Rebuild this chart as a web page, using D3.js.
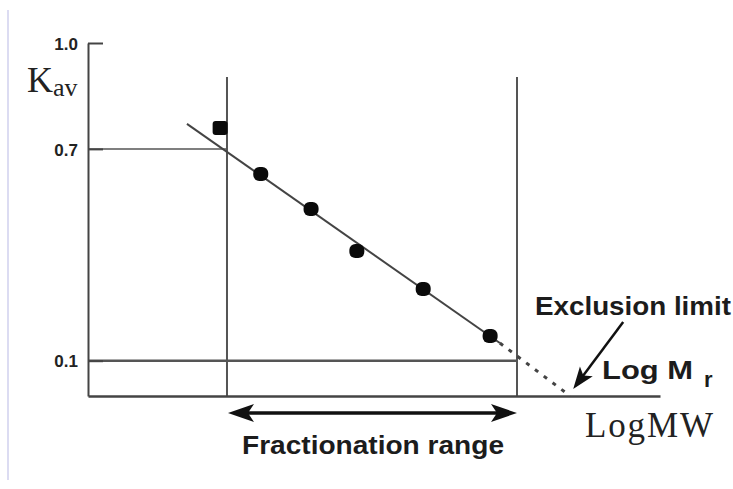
<!DOCTYPE html>
<meta charset="utf-8">
<html>
<style>
body { margin: 0; background: #fff; }
.guide { fill: none; stroke: #555; }
.lbl { font-family: "Liberation Sans", Arial, sans-serif; font-weight: bold; fill: #1c1c1c; }
.serif { font-family: "Liberation Serif", "Times New Roman", serif; fill: #222; }
</style>
<body>
<script src="https://d3js.org/d3.v7.min.js"></script>
<script>

// values (x is an arbitrary log MW scale 0..10)
var yTicks = [1.0, 0.7, 0.1];
var cutoffX = [2.43, 7.50];          // fractionation range limits
var cutoffTop = 0.904;
var levelKav = [0.7, 0.1];           // horizontal guides, ending at cutoffX
var pointsX = [2.31, 3.02, 3.90, 4.70, 5.86, 7.03];
var pointsKav = [0.759, 0.629, 0.530, 0.411, 0.303, 0.170];
var fitX = [1.73, 7.20];
var fitKav = [0.771, 0.150];
var extX = [7.20, 8.43];
var extKav = [0.150, 0.0];

var width = 733, height = 489;

var x = d3.scaleLinear().domain([0, 10]).range([88, 660]);
var y = d3.scaleLinear().domain([0, 1]).range([396, 43]);

var svg = d3.select("body").append("svg")
    .attr("width", width)
    .attr("height", height);

// faint page border on the left
svg.append("line")
    .attr("x1", 8).attr("x2", 8).attr("y1", 10).attr("y2", 480)
    .style("stroke", "#dcdcf2").style("stroke-width", 2);

// horizontal guides at 0.7 and 0.1
svg.selectAll(".level")
    .data(levelKav)
  .enter().append("line")
    .attr("class", "guide")
    .attr("x1", x(0))
    .attr("x2", function(d, i) { return x(cutoffX[i]); })
    .attr("y1", function(d) { return y(d); })
    .attr("y2", function(d) { return y(d); })
    .style("stroke-width", function(d, i) { return i ? 2.5 : 1.5; });

// vertical cut-off lines
svg.selectAll(".cut")
    .data(cutoffX)
  .enter().append("line")
    .attr("class", "guide")
    .attr("x1", function(d) { return x(d); })
    .attr("x2", function(d) { return x(d); })
    .attr("y1", y(cutoffTop))
    .attr("y2", y(0))
    .style("stroke-width", 2);

// Y axis
svg.append("g")
    .attr("transform", "translate(" + x(0) + ",0)")
    .call(d3.axisLeft(y).tickValues(yTicks).tickSize(-15).tickSizeOuter(0)
      .tickPadding(10).tickFormat(d3.format(".1f")))
    .call(function(g) {
      g.attr("font-size", null).attr("font-family", null);
      g.selectAll("path, line").style("stroke", "#444").style("stroke-width", 2);
      g.selectAll("text").attr("class", "lbl")
        .attr("font-size", 17).style("font-size", "17px")
        .attr("dy", "0.36em").style("fill", "#222");
    });

// X axis
svg.append("g")
    .attr("transform", "translate(0," + y(0) + ")")
    .call(d3.axisBottom(x).tickValues([]).tickSizeOuter(0))
    .call(function(g) {
      g.select("path").style("stroke", "#444").style("stroke-width", 2.5);
    });

// fitted line, solid then dotted extrapolation
var line = d3.line()
    .x(function(d) { return x(d[0]); })
    .y(function(d) { return y(d[1]); });

svg.append("path")
    .datum(d3.zip(fitX, fitKav))
    .attr("d", line)
    .style("fill", "none").style("stroke", "#444").style("stroke-width", 2);

svg.append("path")
    .datum(d3.zip(extX, extKav))
    .attr("d", line)
    .style("fill", "none").style("stroke", "#444").style("stroke-width", 3)
    .style("stroke-dasharray", "4,7");

// data points
svg.selectAll(".pt")
    .data(d3.zip(pointsX, pointsKav))
  .enter().append("rect")
    .attr("x", function(d) { return x(d[0]) - 7.5; })
    .attr("y", function(d) { return y(d[1]) - 7; })
    .attr("width", 15).attr("height", 14)
    .attr("rx", function(d, i) { return i ? 6 : 3; })
    .style("fill", "#0a0a0a");

// fractionation range double arrow
var ay = y(0) + 17, xa = x(cutoffX[0]) + 1, xb = x(cutoffX[1]);
svg.append("line")
    .attr("x1", xa + 10).attr("x2", xb - 10).attr("y1", ay).attr("y2", ay)
    .style("stroke", "#111").style("stroke-width", 3.5);
svg.append("path")
    .attr("d", "M" + xa + "," + ay + "L" + (xa + 26) + "," + (ay - 9) + "L" + (xa + 20) + "," + ay +
               "L" + (xa + 26) + "," + (ay + 9) + "Z")
    .style("fill", "#111");
svg.append("path")
    .attr("d", "M" + xb + "," + ay + "L" + (xb - 26) + "," + (ay - 9) + "L" + (xb - 20) + "," + ay +
               "L" + (xb - 26) + "," + (ay + 9) + "Z")
    .style("fill", "#111");

// exclusion limit arrow
var tx = x(extX[1]) + 3, ty = y(0) - 7;
var sx = tx + 50, sy = ty - 67;
var ang = Math.atan2(ty - sy, tx - sx);
function rot(dx, dy) {
  return [tx + dx * Math.cos(ang) - dy * Math.sin(ang), ty + dx * Math.sin(ang) + dy * Math.cos(ang)];
}
svg.append("line")
    .attr("x1", sx).attr("y1", sy)
    .attr("x2", rot(-14, 0)[0]).attr("y2", rot(-14, 0)[1])
    .style("stroke", "#111").style("stroke-width", 2.5);
svg.append("path")
    .attr("d", "M" + rot(0, 0) + "L" + rot(-22, -8) + "L" + rot(-17, 0) + "L" + rot(-22, 8) + "Z")
    .style("fill", "#111");

// labels
svg.append("text").attr("class", "serif")
    .attr("x", 27).attr("y", 92).style("font-size", "36px").text("K");
svg.append("text").attr("class", "serif")
    .attr("x", 53).attr("y", 96).style("font-size", "26px").text("av");

svg.append("text").attr("class", "serif")
    .attr("x", 585).attr("y", 437).style("font-size", "35px")
    .attr("textLength", 128).text("LogMW");

svg.append("text").attr("class", "lbl")
    .attr("x", 535).attr("y", 315).style("font-size", "25px")
    .attr("textLength", 196).attr("lengthAdjust", "spacingAndGlyphs").text("Exclusion limit");

svg.append("text").attr("class", "lbl")
    .attr("x", 602).attr("y", 379).style("font-size", "26px")
    .attr("textLength", 91).attr("lengthAdjust", "spacingAndGlyphs").text("Log M");
svg.append("text").attr("class", "lbl")
    .attr("x", 704).attr("y", 387).style("font-size", "22px").text("r");

svg.append("text").attr("class", "lbl")
    .attr("x", 242).attr("y", 454).style("font-size", "25px")
    .attr("textLength", 262).attr("lengthAdjust", "spacingAndGlyphs").text("Fractionation range");

</script>
</body>
</html>
